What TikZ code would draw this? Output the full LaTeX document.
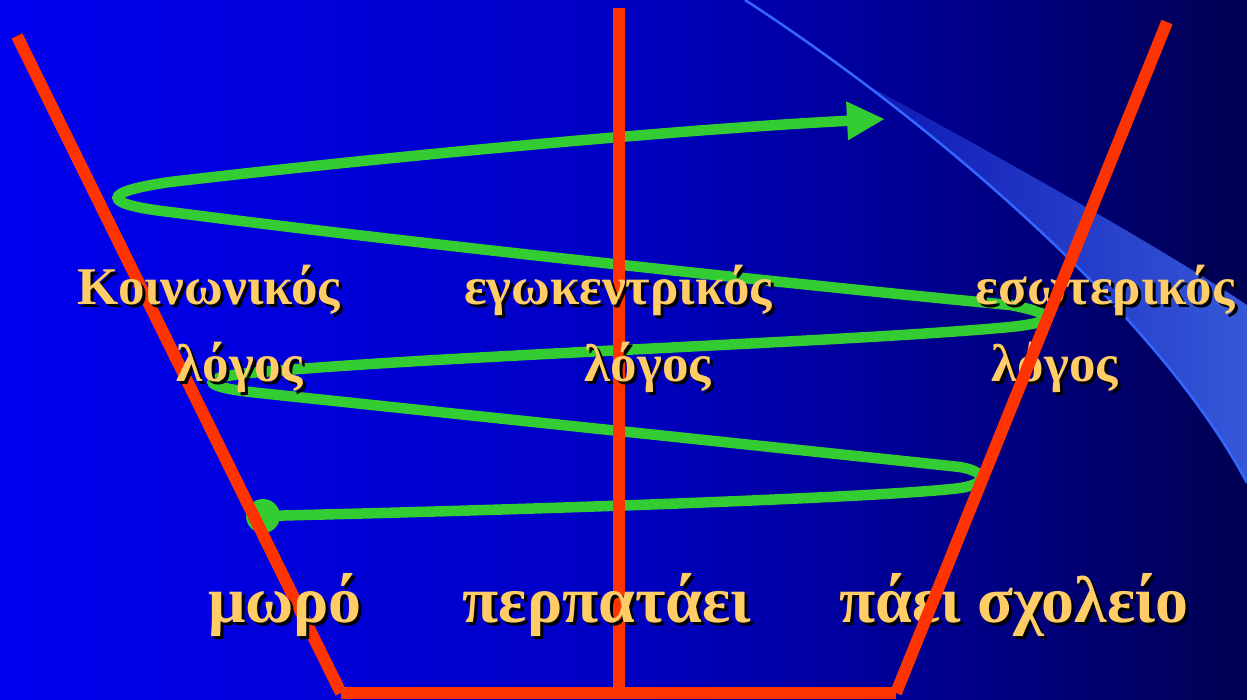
\documentclass[tikz,border=0pt]{standalone}
\usepackage{fontspec}
\setmainfont{Liberation Serif}
\usetikzlibrary{arrows.meta}
\definecolor{redln}{HTML}{FF3300}
\definecolor{grn}{HTML}{33CC33}
\definecolor{txtc}{HTML}{FFCC66}
\definecolor{swline}{HTML}{3366FF}
\definecolor{bandR}{HTML}{3558D8}
\definecolor{bandM}{HTML}{1A28A8}
\definecolor{bandL}{HTML}{0204A8}
\pgfdeclarehorizontalshading{bgsh}{100bp}{rgb(0bp)=(0,0,0.94); rgb(25bp)=(0,0,0.94); rgb(50bp)=(0,0,0.76); rgb(62.5bp)=(0,0,0.56); rgb(75bp)=(0,0,0.32); rgb(100bp)=(0,0,0.32)}
\tikzset{
  lbl/.style={text=txtc, anchor=base, inner sep=0pt},
  lblshadow/.style={text=black, anchor=base, inner sep=0pt},
  redline/.style={draw=redln, line width=12pt},
  spiral/.style={draw=grn, line width=10.5pt},
}
\newcommand\glabel[5]{%
  \node[lblshadow,font=\fontsize{#4}{#4}\selectfont\bfseries] at (#2+3,#3+3) {#5};
  \node[lbl,font=\fontsize{#4}{#4}\selectfont\bfseries] (#1) at (#2,#3) {#5};}
\begin{document}
\begin{tikzpicture}[x=1pt,y=-1pt]
\useasboundingbox (0,0) rectangle (1247,699);
\shade[shading=bgsh] (0,0) rectangle (1247,699);
% swoosh band
\shade[left color=bandL, middle color=bandM, right color=bandR] (858,80) .. controls (950,130) and (1150,240) .. (1247,305) -- (1247,483) .. controls (1150,300) and (900,100) .. (745,0) -- cycle;
\draw[swline, line width=2.5pt] (745,0) .. controls (900,100) and (1150,300) .. (1247,483);
% coordinates of the funnel
\coordinate (lt) at (17,36);
\coordinate (lb) at (341,693);
\coordinate (rt) at (1167,22);
\coordinate (rb) at (896,693);
\coordinate (ct) at (619,8);
\coordinate (cb) at (619,687);
\coordinate (start) at (263,516);
\coordinate (tip) at (885,119);
% green spiral
\fill[grn] (start) circle (17);
\draw[spiral, -{Triangle[length=38pt,width=36pt]}]
 (start) .. controls (600,508) and (900,496) .. (960,488)
 .. controls (988,484) and (988,472) .. (960,467)
 .. controls (800,450) and (400,408) .. (250,392)
 .. controls (200,386) and (200,378) .. (250,373)
 .. controls (450,355) and (850,342) .. (1010,327)
 .. controls (1058,322) and (1058,314) .. (1010,305)
 .. controls (800,285) and (400,242) .. (170,212)
 .. controls (100,204) and (100,192) .. (170,182)
 .. controls (400,155) and (700,128) .. (tip);
% red lines (behind text)
\draw[redline] (lt) -- (lb);
\draw[redline] (ct) -- (cb);
\draw[redline] (lb) -- (rb);
% labels
\glabel{k1}{209}{304}{53}{Κοινωνικός}
\glabel{k2}{240}{381}{53}{λόγος}
\glabel{e1}{618}{304}{53}{εγωκεντρικός}
\glabel{e2}{648}{381}{53}{λόγος}
\glabel{s1}{1105}{304}{53}{εσωτερικός}
\glabel{s2}{1055}{381}{53}{λόγος}
\glabel{b1}{285}{622}{66}{μωρό}
\glabel{b2}{607}{622}{66}{περπατάει}
\glabel{b3}{1014}{622}{66}{πάει σχολείο}
% right red line (above text)
\draw[redline] (rt) -- (rb);
\end{tikzpicture}
\end{document}
